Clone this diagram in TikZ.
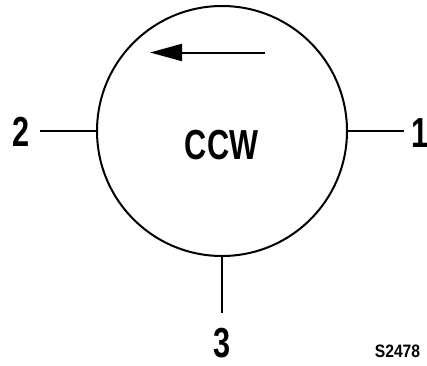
\documentclass[tikz,border=0pt]{standalone}
\usepackage{fontspec}
\setmainfont{Liberation Sans}
\newfontfamily\condfont[FakeStretch=0.73]{Liberation Sans Bold}
\newfontfamily\idfont[FakeStretch=0.87]{Liberation Sans Bold}
\usetikzlibrary{arrows.meta}
\begin{document}
\begin{tikzpicture}[x=1pt,y=-1pt,
  wire/.style={line width=2pt},
  lbl/.style={font=\condfont\fontsize{42}{42}\selectfont, inner sep=0pt, anchor=center}]
\useasboundingbox (0,0) rectangle (427,365);
\node[circle, draw, line width=2pt, minimum size=250pt, inner sep=0pt] (c) at (222,131) {};
\node[font=\condfont\fontsize{42}{42}\selectfont, inner sep=0pt] (ccw) at (221.5,145) {CCW};
\coordinate (a1) at (265,52.5);
\coordinate (a2) at (150,52.5);
\draw[wire, -{Triangle[length=32pt,width=17pt]}] (a1) -- (a2);
\coordinate (e2) at (40,131);
\coordinate (e1) at (404,131);
\coordinate (e3) at (222,313);
\draw[wire] (c.west) -- (e2);
\draw[wire] (c.east) -- (e1);
\draw[wire] (c.south) -- (e3);
\node[lbl] (l2) at (21,131.5) {2};
\node[lbl] (l1) at (420,133) {1};
\node[lbl] (l3) at (222.5,343) {3};
\node[font=\idfont\fontsize{18}{18}\selectfont, inner sep=0pt] (id) at (397.5,351.5) {S2478};
\end{tikzpicture}
\end{document}
